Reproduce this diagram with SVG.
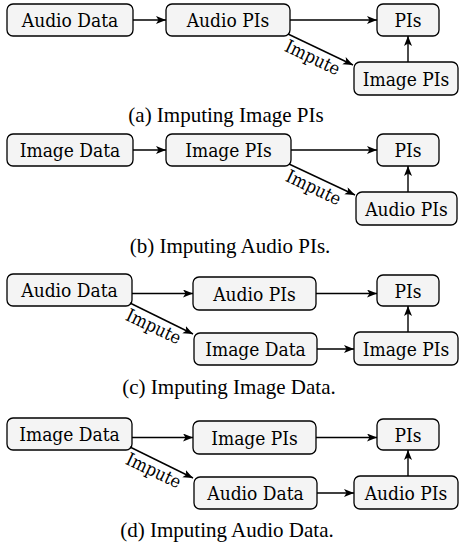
<svg xmlns="http://www.w3.org/2000/svg" width="461" height="544" viewBox="0 0 461 544">
<style>
.box{fill:#f4f4f4;stroke:#000;stroke-width:1.3}
.lbl{font-family:"DejaVu Serif Condensed","DejaVu Serif",serif;font-stretch:condensed;font-size:19px;text-anchor:middle;fill:#000}
.imp{font-family:"DejaVu Serif Condensed","DejaVu Serif",serif;font-stretch:condensed;font-size:18px;text-anchor:middle;fill:#000}
.cap{font-family:"Liberation Serif",serif;font-size:21px;text-anchor:middle;fill:#000}
.edge{stroke:#000;stroke-width:1.4;fill:none;marker-end:url(#arr)}
</style>
<defs>
<marker id="arr" markerUnits="userSpaceOnUse" markerWidth="12" markerHeight="10" refX="10" refY="4" orient="auto">
<path d="M0,0 L10,4 L0,8 L2.5,4 z" fill="#000"/>
</marker>
</defs>

<!-- Panel a -->
<g id="a-audio-data"><rect class="box" x="7" y="4" width="126" height="32" rx="6"/><text class="lbl" x="70" y="27">Audio Data</text></g>
<g id="a-audio-pis"><rect class="box" x="166" y="4" width="124" height="32" rx="6"/><text class="lbl" x="228" y="27">Audio PIs</text></g>
<g id="a-pis"><rect class="box" x="377" y="4" width="62" height="32" rx="6"/><text class="lbl" x="408" y="27">PIs</text></g>
<g id="a-image-pis"><rect class="box" x="354" y="62" width="104" height="33" rx="6"/><text class="lbl" x="406" y="85.5">Image PIs</text></g>
<g id="a-edges">
<line class="edge" x1="133" y1="20" x2="166" y2="20"/>
<line class="edge" x1="290" y1="20" x2="377" y2="20"/>
<line class="edge" x1="288" y1="34" x2="353" y2="65"/>
<line class="edge" x1="408" y1="62" x2="408" y2="36"/>
<text class="imp" transform="translate(310,63) rotate(25.5)">Impute</text>
</g>
<text class="cap" x="226" y="122">(a) Imputing Image PIs</text>

<!-- Panel b -->
<g id="b-image-data"><rect class="box" x="7" y="134" width="126" height="32" rx="6"/><text class="lbl" x="70" y="157">Image Data</text></g>
<g id="b-image-pis"><rect class="box" x="166" y="134" width="125" height="32" rx="6"/><text class="lbl" x="228.5" y="157">Image PIs</text></g>
<g id="b-pis"><rect class="box" x="377" y="134" width="62" height="32" rx="6"/><text class="lbl" x="408" y="157">PIs</text></g>
<g id="b-audio-pis"><rect class="box" x="356" y="192" width="101" height="33" rx="6"/><text class="lbl" x="406.5" y="215.5">Audio PIs</text></g>
<g id="b-edges">
<line class="edge" x1="133" y1="150" x2="166" y2="150"/>
<line class="edge" x1="291" y1="150" x2="377" y2="150"/>
<line class="edge" x1="289" y1="164" x2="355" y2="195"/>
<line class="edge" x1="408" y1="192" x2="408" y2="166"/>
<text class="imp" transform="translate(311,193) rotate(25.5)">Impute</text>
</g>
<text class="cap" x="230" y="253">(b) Imputing Audio PIs.</text>

<!-- Panel c -->
<g id="c-audio-data"><rect class="box" x="7" y="274" width="125" height="32" rx="6"/><text class="lbl" x="69.5" y="297">Audio Data</text></g>
<g id="c-audio-pis"><rect class="box" x="193" y="277" width="123" height="33" rx="6"/><text class="lbl" x="254.5" y="300.5">Audio PIs</text></g>
<g id="c-pis"><rect class="box" x="377" y="275" width="62" height="31" rx="6"/><text class="lbl" x="408" y="297.5">PIs</text></g>
<g id="c-image-data"><rect class="box" x="194" y="333" width="123" height="32" rx="6"/><text class="lbl" x="255.5" y="356">Image Data</text></g>
<g id="c-image-pis"><rect class="box" x="354" y="332" width="104" height="33" rx="6"/><text class="lbl" x="406" y="355.5">Image PIs</text></g>
<g id="c-edges">
<line class="edge" x1="132" y1="293.5" x2="193" y2="293.5"/>
<line class="edge" x1="316" y1="293.5" x2="377" y2="293.5"/>
<line class="edge" x1="130" y1="303" x2="193" y2="334"/>
<line class="edge" x1="317" y1="349" x2="354" y2="349"/>
<line class="edge" x1="408" y1="332" x2="408" y2="306"/>
<text class="imp" transform="translate(151,332) rotate(25.5)">Impute</text>
</g>
<text class="cap" x="229" y="394">(c) Imputing Image Data.</text>

<!-- Panel d -->
<g id="d-image-data"><rect class="box" x="7" y="418" width="125" height="32" rx="6"/><text class="lbl" x="69.5" y="441">Image Data</text></g>
<g id="d-image-pis"><rect class="box" x="193" y="421" width="123" height="33" rx="6"/><text class="lbl" x="254.5" y="444.5">Image PIs</text></g>
<g id="d-pis"><rect class="box" x="377" y="419" width="62" height="31" rx="6"/><text class="lbl" x="408" y="441.5">PIs</text></g>
<g id="d-audio-data"><rect class="box" x="194" y="477" width="123" height="32" rx="6"/><text class="lbl" x="255.5" y="500">Audio Data</text></g>
<g id="d-audio-pis"><rect class="box" x="354" y="476" width="104" height="33" rx="6"/><text class="lbl" x="406" y="499.5">Audio PIs</text></g>
<g id="d-edges">
<line class="edge" x1="132" y1="437.5" x2="193" y2="437.5"/>
<line class="edge" x1="316" y1="437.5" x2="377" y2="437.5"/>
<line class="edge" x1="130" y1="447" x2="193" y2="478"/>
<line class="edge" x1="317" y1="493" x2="354" y2="493"/>
<line class="edge" x1="408" y1="476" x2="408" y2="450"/>
<text class="imp" transform="translate(151,476) rotate(25.5)">Impute</text>
</g>
<text class="cap" x="227" y="537">(d) Imputing Audio Data.</text>
</svg>
